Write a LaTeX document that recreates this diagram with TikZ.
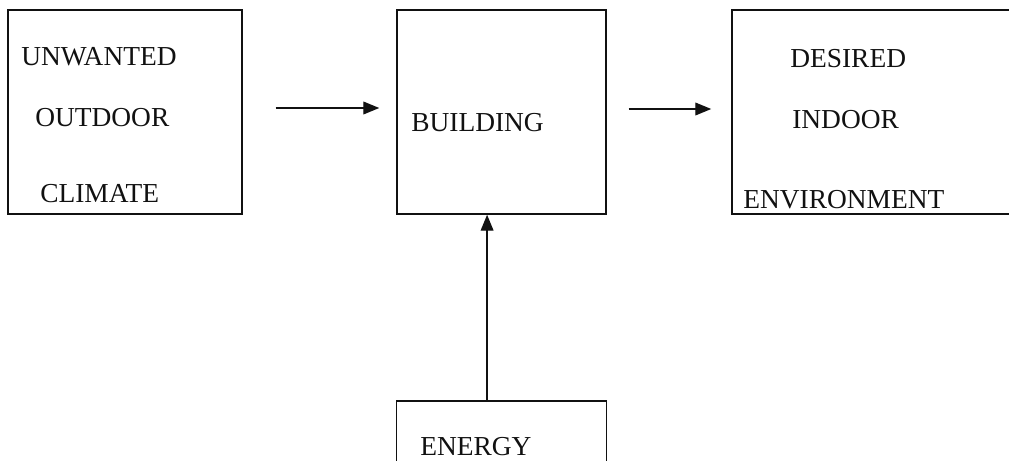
\documentclass[tikz,border=0pt]{standalone}
\usepackage{fontspec}
\setmainfont{Liberation Serif}
\usetikzlibrary{arrows.meta,positioning}
\definecolor{InkBlack}{HTML}{111111}

\begin{document}
\begin{tikzpicture}[x=0.025cm, y=-0.025cm,
  box/.style={draw=InkBlack, line width=1pt, minimum height=5.1cm, inner sep=0pt},
  lbl/.style={anchor=west, inner sep=0pt, text=InkBlack, font=\fontsize{19.5}{23}\selectfont},
  arr/.style={-{Triangle[length=4mm, width=3.2mm]}, line width=1pt, InkBlack}
]
\useasboundingbox (0,0) rectangle (1009,461);
\clip (0,0) rectangle (1009,461);
\node[box, minimum width=5.85cm] (outbox) at (125,112) {};
\node[box, minimum width=5.225cm] (bldg) at (501.5,112) {};
\node[box, minimum width=7.7cm] (inbox) at (886,112) {};
\node[box, minimum width=5.25cm, minimum height=3cm] (energy) at (501.5,461) {};
\node[lbl] (unwanted) at (21,57) {UNWANTED};
\node[lbl] (outdoor) at (35,118) {OUTDOOR};
\node[lbl] (climate) at (40,194) {CLIMATE};
\node[lbl] (building) at (411,123) {BUILDING};
\node[lbl] (desired) at (790,59) {DESIRED};
\node[lbl] (indoor) at (792,120) {INDOOR};
\node[lbl] (environment) at (743,200) {ENVIRONMENT};
\node[lbl] (energytext) at (420,447) {ENERGY};
\draw[arr] ([xshift=0.825cm, yshift=0.1cm]outbox.east) -- ([xshift=-0.425cm, yshift=0.1cm]bldg.west);
\draw[arr] ([xshift=0.55cm, yshift=0.075cm]bldg.east) -- ([xshift=-0.5cm, yshift=0.075cm]inbox.west);
\draw[arr] ([xshift=-0.36cm]energy.north) -- ([xshift=-0.36cm]bldg.south);
\end{tikzpicture}
\end{document}
